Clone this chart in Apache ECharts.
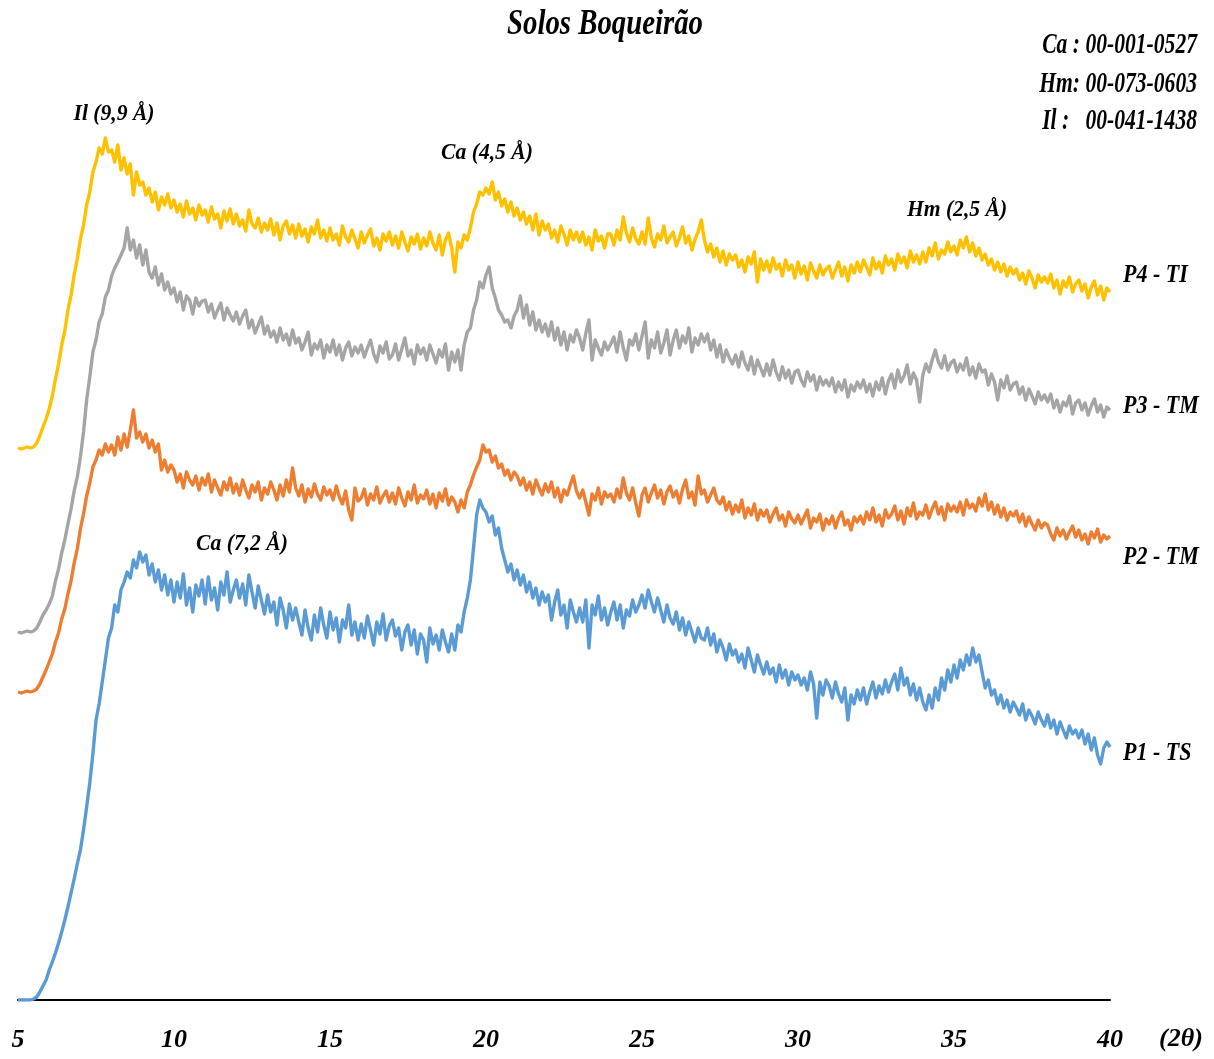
<!DOCTYPE html>
<html>
<head>
<meta charset="utf-8">
<title>Solos Boqueirão</title>
<script src="https://cdn.jsdelivr.net/npm/echarts@6/dist/echarts.min.js"></script>
<style>
  html, body { margin: 0; padding: 0; background: #fff; }
  #chart { width: 1214px; height: 1059px; }
</style>
</head>
<body>
<div id="chart"></div>
<script>
// scan grid (2θ), one reading every 0.1°
var scanStart = 5;
var scanStep = 0.1;
var xTicks = [5, 10, 15, 20, 25, 30, 35, 40];

// intensities (arbitrary units, stacked offsets included)
var p4 = [
  552, 551, 552, 553, 552, 553, 557, 564, 573, 581,
  591, 604, 621, 636, 655, 669, 690, 705, 725, 741,
  761, 775, 795, 808, 828, 838, 852, 846, 862, 848,
  850, 838, 855, 830, 842, 826, 836, 805, 828, 815,
  818, 805, 812, 798, 808, 790, 803, 795, 806, 792,
  800, 788, 796, 783, 799, 786, 792, 780, 795, 785,
  790, 778, 793, 781, 786, 772, 789, 779, 791, 776,
  786, 774, 780, 769, 790, 776, 772, 782, 768, 777,
  770, 781, 765, 777, 760, 774, 779, 766, 775, 762,
  776, 764, 771, 758, 773, 766, 780, 762, 770, 759,
  772, 760, 766, 755, 774, 763, 758, 770, 761, 752,
  768, 757, 765, 771, 754, 762, 750, 766, 759, 768,
  755, 764, 752, 768, 758, 749, 763, 756, 766, 751,
  762, 754, 768, 757, 750, 765, 745, 760, 767, 752,
  728, 758, 752, 765, 760, 772, 788, 796, 808, 805,
  812, 806, 818, 800, 808, 794, 801, 788, 798, 784,
  792, 780, 788, 776, 784, 770, 786, 765, 779, 770,
  776, 762, 770, 758, 774, 766, 755, 770, 760, 768,
  758, 768, 755, 763, 750, 770, 759, 764, 752, 766,
  766, 755, 770, 760, 783, 767, 758, 772, 761, 756,
  768, 756, 782, 762, 753, 766, 760, 774, 757, 763,
  768, 754, 762, 773, 757, 764, 750, 761, 768, 780,
  760, 748, 756, 743, 752, 738, 749, 735, 746, 740,
  745, 733, 740, 728, 743, 736, 748, 718, 741, 730,
  739, 728, 742, 731, 736, 724, 740, 730, 735, 722,
  738, 726, 734, 720, 737, 729, 722, 735, 725, 731,
  734, 722, 730, 738, 724, 733, 719, 735, 727, 738,
  728, 740, 733, 725, 742, 731, 738, 727, 744, 735,
  741, 730, 746, 737, 743, 732, 749, 738, 745, 736,
  748, 738, 752, 744, 757, 741, 750, 746, 758, 748,
  754, 745, 760, 752, 763, 748, 757, 744, 752, 740,
  746, 735, 741, 730, 738, 728, 736, 724, 733, 726,
  731, 720, 727, 716, 729, 722, 712, 725, 718, 723,
  717, 726, 712, 720, 706, 719, 713, 723, 708, 716,
  720, 709, 716, 702, 713, 719, 705, 714, 700, 712,
  708
];
var p3 = [
  368, 367, 368, 369, 368, 369, 372, 378, 385, 390,
  396, 404, 419, 431, 447, 460, 476, 491, 509, 523,
  543, 568, 600, 623, 648, 660, 678, 686, 703, 710,
  724, 732, 738, 745, 752, 772, 750, 760, 742, 755,
  735, 750, 728, 722, 733, 715, 726, 710, 718, 706,
  712, 698, 708, 690, 704, 700, 686, 702, 694, 699,
  700, 688, 696, 682, 690, 697, 680, 692, 685, 679,
  688, 676, 684, 690, 672, 680, 667, 675, 683, 666,
  674, 663, 669, 658, 672, 660, 666, 655, 670, 657,
  662, 650, 658, 668, 645, 656, 651, 660, 642, 655,
  648, 660, 645, 655, 640, 652, 658, 644, 653, 647,
  655, 643, 652, 660, 646, 638, 654, 647, 658, 641,
  645, 656, 640, 651, 662, 644, 650, 636, 655, 646,
  652, 640, 655, 646, 637, 650, 643, 656, 630, 648,
  638, 650, 630, 655, 668, 672, 690, 700, 718, 712,
  725, 733, 712, 702, 690, 685, 678, 680, 672, 684,
  690, 704, 682, 695, 675, 688, 670, 680, 668, 676,
  664, 678, 660, 672, 655, 668, 650, 665, 658, 670,
  662, 650, 667, 680, 640, 660, 652, 645, 658, 650,
  656, 663, 648, 668, 652, 640, 660, 655, 666, 650,
  664, 678, 642, 660, 652, 668, 647, 657, 670, 645,
  660, 670, 652, 664, 657, 672, 648, 662, 655, 666,
  658, 666, 650, 660, 643, 655, 638, 650, 642, 636,
  645, 633, 648, 637, 630, 643, 626, 640, 632, 624,
  636, 625, 640, 628, 620, 633, 622, 630, 617, 628,
  630, 620, 614, 628, 619, 625, 610, 623, 615, 620,
  614, 622, 608, 618, 610, 620, 603, 615, 609, 618,
  612, 620, 608, 616, 604, 618, 610, 622, 606, 619,
  626, 612, 630, 618, 624, 635, 616, 627, 620, 598,
  625, 636, 628, 640, 650, 638, 632, 644, 630, 637,
  640, 628, 636, 630, 642, 625, 633, 622, 636, 628,
  630, 615, 626, 618, 600, 620, 612, 624, 610, 616,
  618, 606, 613, 600, 611, 604, 596, 608, 600, 605,
  598, 606, 592, 600, 588, 598, 594, 604, 586, 597,
  600, 590, 597, 585, 594, 601, 588, 595, 583, 593,
  590
];
var p2 = [
  308, 307, 308, 309, 308, 309, 311, 316, 323, 330,
  338, 346, 358, 367, 381, 391, 406, 419, 437, 451,
  471, 486, 504, 517, 533, 540, 550, 545, 556, 548,
  555, 545, 563, 550, 566, 553, 570, 590, 562, 568,
  558, 566, 552, 560, 548, 556, 530, 540, 528, 535,
  530, 518, 526, 512, 528, 520, 515, 524, 510, 522,
  515, 526, 508, 520, 512, 505, 518, 510, 522, 507,
  516, 505, 520, 510, 502, 515, 508, 518, 500, 512,
  506, 518, 510, 500, 515, 504, 520, 508, 532, 512,
  504, 515, 498, 511, 503, 516, 506, 500, 513, 505,
  510, 500, 514, 503, 496, 509, 490, 480, 512, 499,
  502, 511, 495, 506, 500, 513, 497, 504, 509, 498,
  507, 496, 512, 502, 494, 508, 500, 515, 497, 505,
  501, 510, 496, 506, 492, 507, 499, 511, 495, 503,
  498, 488, 500, 492, 508, 515, 525, 533, 540, 555,
  548, 550, 538, 544, 532, 536, 525, 530, 520, 528,
  524, 515, 522, 510, 518, 506, 520, 512, 505, 516,
  508, 518, 503, 512, 498, 510, 505, 515, 524, 509,
  502, 510, 498, 485, 506, 500, 512, 496, 508, 503,
  506, 498, 511, 502, 522, 507, 500, 512, 497, 484,
  505, 512, 498, 507, 515, 502, 510, 496, 508, 514,
  503, 509, 497, 511, 520, 502, 508, 495, 524, 506,
  510, 498, 505, 512, 500, 496, 503, 490, 498, 486,
  495, 488, 500, 482, 492, 485, 496, 480, 490, 484,
  490, 478, 486, 492, 480, 485, 474, 488, 481, 477,
  485, 476, 483, 490, 472, 482, 478, 486, 470, 481,
  476, 484, 472, 482, 488, 475, 480, 470, 483, 478,
  484, 476, 488, 480, 492, 478, 485, 474, 490, 482,
  486, 494, 480, 489, 476, 492, 484, 497, 481, 488,
  485, 495, 482, 491, 498, 486, 493, 480, 496, 489,
  494, 488, 498, 485, 500, 492, 496, 489, 502, 494,
  506, 490, 498, 486, 495, 483, 492, 480, 488, 484,
  489, 478, 486, 474, 483, 476, 470, 480, 472, 477,
  475, 466, 460, 472, 464, 470, 461, 468, 474, 463,
  470, 460, 466, 456, 468, 462, 471, 458, 465, 461,
  464
];
var p1 = [
  0, 0, 0, 0, 0, 1, 3, 8, 14, 20,
  30, 38, 47, 57, 68, 80, 93, 107, 121, 136,
  150, 170, 193, 217, 246, 280, 296, 318, 340, 362,
  372, 395, 388, 410, 418, 428, 422, 440, 432, 448,
  438, 445, 425, 436, 418, 430, 410, 425, 405, 420,
  398, 418, 402, 426, 395, 412, 388, 415, 404, 420,
  396, 423, 400, 412, 390, 418, 405, 428, 398, 410,
  420, 402, 416, 395, 425, 408, 392, 414, 400, 386,
  405, 388, 398, 375, 402, 390, 372, 396, 380, 392,
  378, 365, 390, 372, 360, 385, 368, 392, 375, 362,
  388, 370, 382, 358, 380, 372, 395, 365, 378, 360,
  376, 362, 384, 370, 355, 378, 366, 386, 360, 374,
  380, 364, 372, 350, 368, 375, 355, 370, 346, 366,
  360, 338, 372, 356, 365, 350, 370, 358, 348, 366,
  350, 375, 368, 388, 402, 420, 452, 485, 500, 492,
  488, 478, 484, 465, 472, 452, 440, 428, 436, 420,
  430, 415, 425, 408, 418, 402, 412, 395, 408, 398,
  405, 380, 398, 410, 385, 395, 372, 400, 388, 378,
  392, 378, 400, 352, 395, 385, 404, 380, 392, 375,
  388, 398, 380, 395, 372, 390, 384, 400, 388, 395,
  405, 392, 410, 398, 388, 402, 390, 378, 395, 382,
  376, 388, 370, 382, 365, 378, 368, 358, 372, 362,
  360, 372, 355, 366, 348, 360, 352, 340, 356, 345,
  350, 338, 346, 332, 352, 340, 328, 345, 335, 326,
  338, 326, 332, 318, 335, 322, 330, 315, 328, 320,
  325, 315, 322, 310, 328, 316, 282, 318, 305, 320,
  314, 302, 318, 306, 298, 312, 280, 305, 296, 310,
  300, 312, 296, 308, 318, 302, 314, 306, 320, 308,
  318, 326, 310, 332, 315, 322, 305, 316, 300, 312,
  298, 290, 305, 292, 312, 300, 322, 310, 330, 318,
  335, 322, 340, 330, 345, 335, 352, 338, 345, 328,
  312, 320, 305, 310, 296, 305, 292, 300, 288, 298,
  292, 285, 296, 280, 290, 284, 276, 288, 280, 274,
  285, 272, 280, 266, 278, 270, 262, 274, 266, 270,
  262, 270, 256, 266, 250, 262, 245, 236, 252, 258,
  253
];

var seriesNames = ['P4 - TI', 'P3 - TM', 'P2 - TM', 'P1 - TS'];
var seriesColors = ['#FFC000', '#A5A5A5', '#ED7D31', '#5B9BD5'];
var seriesValues = [p4, p3, p2, p1];

var peakLabels = ['Il (9,9 Å)', 'Ca (4,5 Å)', 'Hm (2,5 Å)', 'Ca (7,2 Å)'];
var cardLines = ['Ca : 00-001-0527', 'Hm: 00-073-0603', 'Il :   00-041-1438'];

function toPairs(vals) {
  return vals.map(function (v, i) {
    return [Math.round((scanStart + i * scanStep) * 10) / 10, v];
  });
}

var FONT = '"Liberation Serif", "Times New Roman", serif';

function txt(x, y, text, size, sx, align) {
  return {
    type: 'text',
    x: x,
    y: y,
    scaleX: sx,
    z: 10,
    style: {
      text: text,
      fill: '#000',
      fontFamily: FONT,
      fontStyle: 'italic',
      fontWeight: 'bold',
      fontSize: size,
      align: align || 'center',
      verticalAlign: 'middle'
    }
  };
}

var chart = echarts.init(document.getElementById('chart'));

var graphics = [
  txt(605, 25, 'Solos Boqueirão', 36, 0.8),
  txt(1197, 45, cardLines[0], 30, 0.72, 'right'),
  txt(1197, 84, cardLines[1], 30, 0.72, 'right'),
  txt(1197, 121, cardLines[2], 30, 0.72, 'right'),
  txt(114, 114, peakLabels[0], 24, 0.9),
  txt(487, 153, peakLabels[1], 24, 0.9),
  txt(957, 210, peakLabels[2], 24, 0.9),
  txt(242, 544, peakLabels[3], 24, 0.9),
  txt(1123, 276, seriesNames[0], 25, 0.88, 'left'),
  txt(1123, 407, seriesNames[1], 25, 0.88, 'left'),
  txt(1123, 558, seriesNames[2], 25, 0.88, 'left'),
  txt(1123, 754, seriesNames[3], 25, 0.88, 'left')
];

chart.setOption({
  animation: false,
  backgroundColor: '#fff',
  grid: {
    left: 18,
    right: 104,
    top: 0,
    bottom: 59,
    outerBoundsMode: 'none'
  },
  xAxis: {
    type: 'value',
    min: xTicks[0],
    max: xTicks[xTicks.length - 1],
    interval: 5,
    name: '(2θ)',
    nameLocation: 'end',
    nameGap: 49,
    nameTextStyle: {
      color: '#000',
      fontFamily: FONT,
      fontStyle: 'italic',
      fontWeight: 'bold',
      fontSize: 26,
      verticalAlign: 'top',
      padding: [26, 0, 0, 0]
    },
    axisLine: { lineStyle: { color: '#000', width: 2 } },
    axisTick: { show: false },
    splitLine: { show: false },
    axisLabel: {
      margin: 27,
      color: '#000',
      fontFamily: FONT,
      fontStyle: 'italic',
      fontWeight: 'bold',
      fontSize: 26
    }
  },
  yAxis: {
    type: 'value',
    min: 0,
    max: 1000,
    show: false
  },
  graphic: graphics,
  series: seriesValues.map(function (vals, k) {
    return {
      name: seriesNames[k],
      type: 'line',
      data: toPairs(vals),
      showSymbol: false,
      symbol: 'none',
      smooth: false,
      lineStyle: { color: seriesColors[k], width: 3.4, join: 'round' },
      z: 2 + k
    };
  })
});

window.addEventListener('resize', function () {
  chart.resize();
});
</script>
</body>
</html>
